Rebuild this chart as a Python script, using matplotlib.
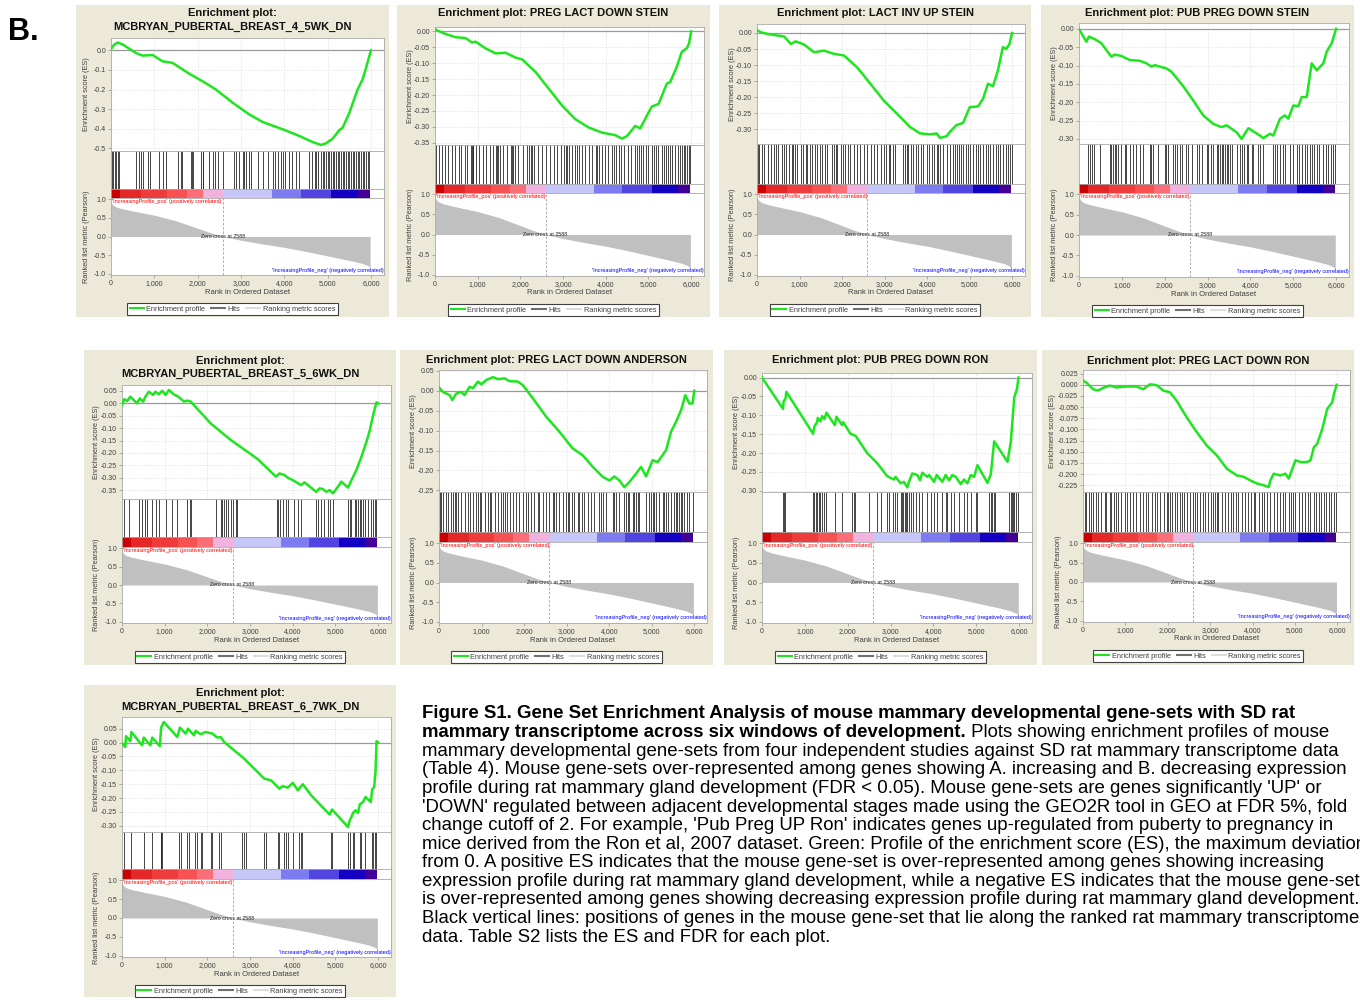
import numpy as np
import matplotlib
matplotlib.use('Agg')
import matplotlib.pyplot as plt
from matplotlib.patches import Rectangle
from matplotlib.lines import Line2D
from matplotlib.ticker import FuncFormatter

plt.rcParams['font.family'] = ['Liberation Sans', 'DejaVu Sans']

# ---- shared ranked list (same rat dataset in every panel) ----
metric_rank = [0, 10, 40, 100, 200, 350, 600, 1000, 1500, 2000, 2300, 2588, 3000, 3500,
               4000, 4500, 5000, 5500, 5800, 5930, 5980]
metric_value = [0.95, 0.9, 0.85, 0.8, 0.76, 0.72, 0.66, 0.57, 0.42, 0.22, 0.1, 0.0, -0.1, -0.2,
                -0.29, -0.4, -0.52, -0.64, -0.72, -0.78, -0.84]
zero_cross = 2588

cbar_edges = [0, 210, 700, 1300, 1750, 2120, 2590, 3715, 4380, 5080, 5700, 5980]
cbar_colors = ['#cc0000', '#e42828', '#ee3c3c', '#f65252', '#fa6e78', '#f2b2de',
               '#c6c6f8', '#7c7cf0', '#5244e0', '#1400c2', '#440096']

# ---- panel 1: MCBRYAN_PUBERTAL_BREAST_4_5WK_DN ----
p1_rank = [0, 77, 154, 270, 577, 730, 960, 1190, 1420, 1810, 2115, 2420, 2810, 3190, 3500,
           3960, 4345, 4650, 4845, 4960, 5115, 5270, 5345, 5500, 5690, 5805, 5885, 5960, 5998]
p1_es = [0.007, 0.03, 0.04, 0.03, -0.014, -0.027, -0.024, -0.056, -0.064, -0.12, -0.158, -0.2,
         -0.268, -0.327, -0.366, -0.403, -0.437, -0.468, -0.483, -0.475, -0.451, -0.407, -0.395,
         -0.319, -0.2, -0.149, -0.09, -0.03, 0.0]
p1_hits = [23, 54, 85, 115, 161, 192, 577, 638, 700, 731, 846, 900, 1100, 1207, 1269, 1538, 1615,
           1638, 1846, 1869, 1899, 2076, 2115, 2130, 2269, 2346, 2407, 2461, 2576, 2845, 2884,
           2961, 3038, 3076, 3115, 3191, 3230, 3384, 3499, 3615, 3730, 3791, 3845, 3922, 3961,
           4022, 4114, 4176, 4268, 4330, 4576, 4637, 4714, 4730, 4768, 4845, 4883, 4922, 4960,
           4999, 5037, 5076, 5114, 5153, 5191, 5230, 5268, 5307, 5345, 5384, 5422, 5460, 5499,
           5537, 5576, 5614, 5653, 5691, 5730, 5768, 5807, 5845, 5883, 5922, 5960]

# ---- panel 2: PREG LACT DOWN STEIN ----
p2_rank = [0, 55, 250, 483, 717, 872, 950, 1184, 1418, 1651, 1885, 2041, 2353, 2664, 2976, 3287,
           3599, 3911, 4222, 4378, 4495, 4690, 4806, 5001, 5079, 5235, 5430, 5508, 5663, 5780,
           5897, 5952, 5998]
p2_es = [0.007, 0.003, -0.008, -0.018, -0.021, -0.035, -0.032, -0.053, -0.069, -0.067, -0.082,
         -0.088, -0.127, -0.18, -0.233, -0.276, -0.302, -0.318, -0.326, -0.337, -0.329, -0.297,
         -0.305, -0.255, -0.236, -0.228, -0.164, -0.159, -0.111, -0.064, -0.053, -0.037, 0.0]
p2_hits = [20, 90, 160, 230, 310, 400, 470, 560, 620, 700, 760, 840, 860, 880, 900, 960, 1040,
           1120, 1200, 1280, 1350, 1420, 1450, 1480, 1520, 1600, 1680, 1770, 1800, 1830, 1870,
           1950, 2050, 2150, 2200, 2240, 2280, 2330, 2420, 2500, 2600, 2700, 2780, 2860, 2940,
           3020, 3060, 3100, 3150, 3200, 3290, 3330, 3380, 3440, 3520, 3600, 3680, 3760, 3800,
           3850, 3900, 3980, 4060, 4150, 4200, 4250, 4300, 4360, 4430, 4520, 4600, 4690, 4730,
           4780, 4830, 4880, 4930, 5000, 5080, 5120, 5170, 5230, 5320, 5360, 5400, 5450, 5500,
           5550, 5620, 5700, 5740, 5780, 5820, 5860, 5900, 5940, 5980]

# ---- panel 3: LACT INV UP STEIN ----
p3_rank = [0, 93, 250, 483, 640, 795, 911, 1106, 1340, 1574, 1807, 2041, 2353, 2664, 2976, 3287,
           3599, 3833, 4066, 4222, 4300, 4456, 4534, 4690, 4845, 5001, 5196, 5313, 5430, 5547,
           5663, 5780, 5858, 5936, 5998]
p3_es = [0.009, 0.002, -0.003, -0.008, -0.011, -0.034, -0.026, -0.036, -0.06, -0.055, -0.065,
         -0.07, -0.107, -0.158, -0.21, -0.251, -0.293, -0.313, -0.316, -0.313, -0.327, -0.322,
         -0.308, -0.287, -0.28, -0.231, -0.229, -0.205, -0.158, -0.166, -0.117, -0.044, -0.05,
         -0.034, 0.0]
p3_hits = [16, 55, 109, 171, 249, 327, 390, 444, 499, 576, 639, 678, 756, 834, 857, 888, 935,
           1028, 1091, 1145, 1184, 1246, 1301, 1355, 1418, 1480, 1535, 1589, 1652, 1769, 1808,
           1847, 1885, 1963, 2025, 2080, 2134, 2197, 2275, 2353, 2430, 2508, 2586, 2680, 2742,
           2820, 2913, 2976, 3038, 3093, 3132, 3194, 3248, 3443, 3482, 3521, 3560, 3615, 3677,
           3739, 3794, 3848, 3911, 3988, 4051, 4105, 4160, 4222, 4261, 4300, 4378, 4456, 4534,
           4596, 4651, 4705, 4752, 4806, 4845, 4908, 4962, 5017, 5079, 5141, 5196, 5250, 5313,
           5375, 5430, 5484, 5547, 5609, 5663, 5718, 5780, 5842, 5897, 5952, 5998]

# ---- panel 4: PUB PREG DOWN STEIN ----
p4_rank = [0, 93, 171, 234, 366, 522, 639, 756, 834, 990, 1184, 1418, 1574, 1690, 1768, 2041,
           2158, 2430, 2664, 2898, 3132, 3326, 3443, 3677, 3794, 3950, 4222, 4300, 4456, 4534,
           4690, 4806, 4884, 5001, 5118, 5196, 5313, 5430, 5547, 5702, 5780, 5897, 5998]
p4_es = [-0.001, -0.019, -0.035, -0.021, -0.028, -0.039, -0.058, -0.076, -0.07, -0.074, -0.085,
         -0.087, -0.094, -0.103, -0.099, -0.108, -0.117, -0.156, -0.195, -0.236, -0.259, -0.268,
         -0.263, -0.282, -0.3, -0.271, -0.291, -0.298, -0.286, -0.291, -0.245, -0.236, -0.245,
         -0.209, -0.211, -0.186, -0.186, -0.094, -0.113, -0.094, -0.062, -0.039, 0.0]
p4_hits = [210, 249, 312, 351, 483, 732, 756, 795, 834, 872, 911, 990, 1067, 1106, 1184, 1262,
           1340, 1418, 1496, 1652, 1690, 1729, 1846, 2002, 2041, 2080, 2197, 2236, 2275, 2353,
           2392, 2508, 2547, 2625, 2742, 2804, 2859, 2976, 3015, 3069, 3132, 3210, 3248, 3287,
           3326, 3365, 3404, 3443, 3482, 3521, 3560, 3677, 3755, 3794, 3848, 3911, 3950, 4027,
           4066, 4183, 4222, 4300, 4534, 4573, 4627, 4690, 4752, 4806, 4923, 5001, 5079, 5141,
           5196, 5274, 5313, 5391, 5430, 5484, 5547, 5609, 5702, 5765, 5819, 5874, 5936, 5982]

# ---- panel 5: MCBRYAN_PUBERTAL_BREAST_5_6WK_DN ----
p5_rank = [0, 55, 118, 196, 353, 416, 494, 549, 627, 729, 784, 863, 941, 1020, 1098, 1216, 1318,
           1451, 1529, 1608, 2078, 2549, 3098, 3176, 3608, 3686, 3804, 3882, 4000, 4196, 4275,
           4549, 4627, 4706, 4784, 4863, 4941, 5059, 5137, 5294, 5373, 5490, 5608, 5725, 5804,
           5882, 5961, 6000]
p5_es = [-0.007, 0.017, 0.009, 0.027, 0.0, 0.02, 0.007, 0.027, 0.047, 0.034, 0.047, 0.036, 0.051,
         0.034, 0.054, 0.036, 0.027, 0.007, 0.011, 0.007, -0.081, -0.148, -0.215, -0.225, -0.296,
         -0.283, -0.289, -0.3, -0.31, -0.33, -0.319, -0.357, -0.343, -0.346, -0.357, -0.35,
         -0.363, -0.336, -0.316, -0.34, -0.31, -0.269, -0.215, -0.155, -0.108, -0.047, 0.004, 0.0]
p5_hits = [55, 172, 392, 470, 533, 588, 706, 807, 862, 1019, 1176, 1294, 1513, 1592, 1607, 2195,
           2313, 2352, 2391, 2430, 2485, 2548, 2611, 2666, 2705, 3630, 3661, 3708, 3763, 3842,
           3896, 4038, 4116, 4194, 4547, 4586, 4665, 4728, 4822, 4861, 4939, 5292, 5331, 5370,
           5449, 5488, 5527, 5566, 5606, 5645, 5684, 5762, 5841, 5880, 5919, 5958]

# ---- panel 6: PREG LACT DOWN ANDERSON ----
p6_rank = [0, 94, 250, 313, 407, 524, 602, 720, 798, 915, 994, 1111, 1268, 1385, 1541, 1659, 1854,
           1972, 2206, 2519, 2832, 3145, 3380, 3615, 3849, 4006, 4123, 4241, 4358, 4475, 4632,
           4750, 4867, 5023, 5141, 5337, 5454, 5571, 5689, 5790, 5884, 5962, 6000]
p6_es = [0.008, -0.003, -0.011, -0.023, -0.007, -0.003, -0.011, 0.01, 0.006, 0.023, 0.016, 0.027,
         0.034, 0.029, 0.031, 0.024, 0.023, 0.014, -0.019, -0.065, -0.103, -0.145, -0.162, -0.191,
         -0.216, -0.225, -0.215, -0.225, -0.242, -0.229, -0.208, -0.191, -0.215, -0.174, -0.179,
         -0.149, -0.103, -0.078, -0.049, -0.011, -0.032, -0.032, 0.0]
p6_hits = [16, 55, 94, 156, 211, 289, 328, 368, 407, 446, 524, 602, 680, 735, 798, 876, 915, 954,
           993, 1071, 1150, 1189, 1228, 1306, 1384, 1462, 1501, 1540, 1595, 1658, 1736, 1799,
           1877, 1971, 2049, 2088, 2166, 2244, 2323, 2362, 2440, 2518, 2596, 2674, 2714, 2753,
           2831, 2909, 2987, 3026, 3065, 3128, 3183, 3261, 3300, 3363, 3417, 3496, 3574, 3652,
           3769, 3808, 3863, 3926, 4082, 4121, 4160, 4238, 4355, 4394, 4434, 4473, 4551, 4590,
           4629, 4668, 4707, 4864, 4942, 4981, 5020, 5059, 5098, 5176, 5255, 5294, 5333, 5372,
           5450, 5528, 5567, 5606, 5646, 5685, 5724, 5763, 5841, 5880, 5974]

# ---- panel 7: PUB PREG DOWN RON ----
p7_rank = [0, 491, 506, 545, 569, 1192, 1223, 1286, 1301, 1364, 1403, 1457, 1504, 1699, 1738,
           1870, 1894, 2065, 2182, 2455, 2689, 2922, 3078, 3117, 3234, 3312, 3390, 3429, 3507,
           3624, 3686, 3741, 3858, 3897, 4014, 4076, 4208, 4286, 4364, 4442, 4520, 4637, 4715,
           4793, 4871, 4949, 5027, 5261, 5339, 5417, 5729, 5768, 5807, 5846, 5885, 5947, 5986]
p7_es = [0.0, -0.083, -0.062, -0.058, -0.038, -0.149, -0.129, -0.118, -0.107, -0.116, -0.102,
         -0.11, -0.093, -0.126, -0.104, -0.126, -0.118, -0.149, -0.154, -0.2, -0.227, -0.261,
         -0.27, -0.263, -0.28, -0.276, -0.291, -0.276, -0.254, -0.258, -0.272, -0.252, -0.263,
         -0.258, -0.276, -0.258, -0.276, -0.258, -0.272, -0.258, -0.263, -0.282, -0.27, -0.28,
         -0.258, -0.263, -0.232, -0.279, -0.256, -0.169, -0.223, -0.196, -0.169, -0.111, -0.053,
         -0.031, 0.0]
p7_hits = [491, 522, 545, 1192, 1223, 1254, 1285, 1324, 1363, 1402, 1457, 1503, 1714, 1870, 2103,
           2142, 2181, 2493, 2688, 2765, 2921, 2960, 3061, 3093, 3155, 3233, 3272, 3295, 3326,
           3357, 3389, 3428, 3467, 3529, 3583, 3661, 3739, 3856, 3950, 4012, 4090, 4207, 4285,
           4323, 4402, 4479, 4596, 4713, 4791, 4869, 4986, 5025, 5297, 5336, 5375, 5414, 5437,
           5765, 5803, 5843, 5866, 5881, 5920, 5975]

# ---- panel 8: PREG LACT DOWN RON ----
p8_rank = [0, 79, 237, 355, 474, 632, 789, 1026, 1263, 1421, 1579, 1737, 1895, 2053, 2211, 2447,
           2684, 2921, 3158, 3395, 3632, 3789, 3947, 4105, 4263, 4382, 4421, 4500, 4658, 4776,
           4855, 5013, 5132, 5289, 5368, 5447, 5526, 5645, 5763, 5882, 5921, 5984]
p8_es = [0.009, 0.005, -0.01, -0.013, -0.007, -0.002, -0.006, -0.004, -0.004, -0.01, 0.001,
         -0.001, -0.013, -0.017, -0.036, -0.073, -0.106, -0.136, -0.158, -0.188, -0.203, -0.206,
         -0.214, -0.221, -0.225, -0.229, -0.214, -0.199, -0.203, -0.199, -0.21, -0.169, -0.173,
         -0.173, -0.169, -0.14, -0.132, -0.099, -0.054, -0.039, -0.021, 0.0]
p8_hits = [39, 79, 142, 197, 237, 300, 355, 434, 513, 552, 631, 671, 726, 773, 828, 907, 986,
           1041, 1105, 1183, 1262, 1341, 1420, 1483, 1539, 1617, 1696, 1736, 1815, 1909, 1973,
           2012, 2051, 2091, 2170, 2209, 2288, 2328, 2383, 2446, 2525, 2588, 2643, 2698, 2761,
           2840, 2880, 2959, 3014, 3077, 3116, 3156, 3195, 3274, 3353, 3432, 3487, 3550, 3613,
           3669, 3747, 3826, 3905, 3961, 4024, 4063, 4142, 4221, 4276, 4339, 4418, 4497, 4576,
           4655, 4718, 4773, 4852, 4907, 4955, 5010, 5089, 5168, 5247, 5302, 5365, 5444, 5507,
           5562, 5617, 5681, 5744, 5799, 5854, 5917, 5981]

# ---- panel 9: MCBRYAN_PUBERTAL_BREAST_6_7WK_DN ----
p9_rank = [0, 78, 94, 196, 220, 471, 510, 666, 706, 886, 917, 980, 1294, 1356, 1490, 1545, 1686,
           1725, 1843, 1960, 2117, 2234, 2313, 2391, 2862, 3019, 3333, 3490, 3686, 3764, 3882,
           4000, 4118, 4235, 4431, 4863, 4918, 5294, 5333, 5373, 5412, 5467, 5529, 5569, 5647,
           5702, 5827, 5859, 5906, 5937, 5961, 6000]
p9_es = [-0.004, -0.016, 0.023, 0.005, 0.038, -0.01, 0.018, -0.01, 0.018, -0.013, 0.054, 0.074,
         0.02, 0.054, 0.032, 0.05, 0.026, 0.042, 0.03, 0.038, 0.032, 0.018, 0.02, 0.002, -0.058,
         -0.082, -0.13, -0.136, -0.166, -0.157, -0.162, -0.145, -0.172, -0.15, -0.19, -0.259,
         -0.241, -0.304, -0.28, -0.268, -0.253, -0.244, -0.253, -0.222, -0.214, -0.196, -0.214,
         -0.169, -0.16, -0.106, 0.005, 0.0]
p9_hits = [55, 212, 510, 706, 902, 917, 933, 1333, 1372, 1513, 1568, 1701, 1748, 1858, 1882, 2078,
           2101, 2274, 2313, 2799, 2846, 2901, 3332, 3371, 3646, 3685, 3787, 3842, 3881, 3998,
           4155, 4194, 4210, 4900, 4916, 5292, 5331, 5410, 5433, 5566, 5606, 5700, 5857, 5888,
           5919, 5958]

caption_lines = [
    "Figure S1. Gene Set Enrichment Analysis of mouse mammary developmental gene-sets with SD rat",
    "mammary transcriptome across six windows of development.",
    "mammary developmental gene-sets from four independent studies against SD rat mammary transcriptome data",
    "(Table 4). Mouse gene-sets over-represented among genes showing A. increasing and B. decreasing expression",
    "profile during rat mammary gland development (FDR < 0.05). Mouse gene-sets are genes significantly 'UP' or",
    "'DOWN' regulated between adjacent developmental stages made using the GEO2R tool in GEO at FDR 5%, fold",
    "change cutoff of 2. For example, 'Pub Preg UP Ron' indicates genes up-regulated from puberty to pregnancy in",
    "mice derived from the Ron et al, 2007 dataset. Green: Profile of the enrichment score (ES), the maximum deviation",
    "from 0. A positive ES indicates that the mouse gene-set is over-represented among genes showing increasing",
    "expression profile during rat mammary gland development, while a negative ES indicates that the mouse gene-set",
    "is over-represented among genes showing decreasing expression profile during rat mammary gland development.",
    "Black vertical lines: positions of genes in the mouse gene-set that lie along the ranked rat mammary transcriptome",
    "data. Table S2 lists the ES and FDR for each plot.",
]
caption_line2_rest = " Plots showing enrichment profiles of mouse"

# ---------------------------------------------------------------------------
W, H = 1360, 1000
BEIGE = '#ece9d8'
GREEN = '#1ee61e'
XMAX = 6300

fig = plt.figure(figsize=(W / 100, H / 100), dpi=100)
fig.patch.set_facecolor('white')


def px_axes(x0, y0, x1, y1):
    return fig.add_axes([x0 / W, 1 - y1 / H, (x1 - x0) / W, (y1 - y0) / H])


def es_formatter(dec):
    def f(v, pos):
        s = f'{v:.{dec}f}'
        if float(s) == 0:
            s = f'{0:.{dec}f}'
        return s
    return FuncFormatter(f)


def style_axes(ax):
    for sp in ax.spines.values():
        sp.set_color('#a8a8a8')
        sp.set_linewidth(0.6)
    ax.set_facecolor('white')
    ax.tick_params(labelsize=5, length=2, width=0.5, color='#909090', labelcolor='#404040', pad=1.5)


panels = [
    dict(rank=p1_rank, es=p1_es, hits=p1_hits, ylim=(-0.514, 0.063), ticks=(0.0, -0.5, 0.1, 1),
         box=(76, 5, 389, 317), lr=(111, 384), ys=(38, 151, 189, 198, 275),
         title=['Enrichment plot:', 'MCBRYAN_PUBERTAL_BREAST_4_5WK_DN'], ty=[13, 27]),
    dict(rank=p2_rank, es=p2_es, hits=p2_hits, ylim=(-0.357, 0.014), ticks=(0.0, -0.35, 0.05, 2),
         box=(397, 5, 710, 317), lr=(435, 704), ys=(27, 145, 184, 193, 276),
         title=['Enrichment plot: PREG LACT DOWN STEIN'], ty=[13]),
    dict(rank=p3_rank, es=p3_es, hits=p3_hits, ylim=(-0.346, 0.028), ticks=(0.0, -0.30, 0.05, 2),
         box=(719, 5, 1031, 317), lr=(757, 1025), ys=(24, 144, 184, 193, 276),
         title=['Enrichment plot: LACT INV UP STEIN'], ty=[13]),
    dict(rank=p4_rank, es=p4_es, hits=p4_hits, ylim=(-0.314, 0.016), ticks=(0.0, -0.30, 0.05, 2),
         box=(1041, 5, 1354, 317), lr=(1079, 1349), ys=(23, 144, 184, 193, 277),
         title=['Enrichment plot: PUB PREG DOWN STEIN'], ty=[13]),
    dict(rank=p5_rank, es=p5_es, hits=p5_hits, ylim=(-0.386, 0.074), ticks=(0.05, -0.35, 0.05, 2),
         box=(84, 350, 396, 665), lr=(122, 391), ys=(385, 499, 537, 547, 623),
         title=['Enrichment plot:', 'MCBRYAN_PUBERTAL_BREAST_5_6WK_DN'], ty=[361, 374]),
    dict(rank=p6_rank, es=p6_es, hits=p6_hits, ylim=(-0.254, 0.052), ticks=(0.05, -0.25, 0.05, 2),
         box=(400, 350, 713, 665), lr=(439, 707), ys=(370, 492, 532, 542, 623),
         title=['Enrichment plot: PREG LACT DOWN ANDERSON'], ty=[360]),
    dict(rank=p7_rank, es=p7_es, hits=p7_hits, ylim=(-0.303, 0.012), ticks=(0.0, -0.30, 0.05, 2),
         box=(724, 350, 1037, 665), lr=(762, 1032), ys=(373, 492, 532, 542, 623),
         title=['Enrichment plot: PUB PREG DOWN RON'], ty=[360]),
    dict(rank=p8_rank, es=p8_es, hits=p8_hits, ylim=(-0.24, 0.033), ticks=(0.025, -0.225, 0.025, 3),
         box=(1042, 350, 1354, 665), lr=(1083, 1350), ys=(370, 492, 532, 542, 622),
         title=['Enrichment plot: PREG LACT DOWN RON'], ty=[361]),
    dict(rank=p9_rank, es=p9_es, hits=p9_hits, ylim=(-0.322, 0.092), ticks=(0.05, -0.30, 0.05, 2),
         box=(84, 685, 396, 997), lr=(122, 391), ys=(717, 832, 869, 879, 957),
         title=['Enrichment plot:', 'MCBRYAN_PUBERTAL_BREAST_6_7WK_DN'], ty=[693, 707]),
]

legend_handles = [Line2D([], [], color=GREEN, lw=1.5),
                  Line2D([], [], color='#707070', lw=1.5),
                  Line2D([], [], color='#dcdcdc', lw=1.5)]
legend_labels = ['Enrichment profile', 'Hits', 'Ranking metric scores']

for p in panels:
    bx0, by0, bx1, by1 = p['box']
    fig.add_artist(Rectangle((bx0 / W, 1 - by1 / H), (bx1 - bx0) / W, (by1 - by0) / H,
                             transform=fig.transFigure, facecolor=BEIGE, edgecolor='none',
                             zorder=-5))
    L, R = p['lr']
    t, e, hb, cb, mb = p['ys']
    cx = (bx0 + bx1) / 2

    # enrichment score
    ax = px_axes(L, t, R, e)
    style_axes(ax)
    ax.grid(True, color='#dddddd', lw=0.5, ls=(0, (2, 2)))
    ax.set_axisbelow(True)
    ax.axhline(0, color='#9a9a9a', lw=0.9, zorder=1)
    ax.plot(p['rank'], p['es'], color=GREEN, lw=1.8, solid_joinstyle='round', zorder=3)
    ax.set_xlim(0, XMAX)
    ax.set_ylim(*p['ylim'])
    top, bot, step, dec = p['ticks']
    ax.set_yticks(np.arange(top, bot - step / 2, -step))
    ax.yaxis.set_major_formatter(es_formatter(dec))
    ax.set_xticks(range(0, 6001, 1000))
    ax.tick_params(axis='x', labelbottom=False, length=0)
    fig.text((L - (30 if dec == 3 else 25)) / W, 1 - (t + e) / 2 / H, 'Enrichment score (ES)',
             rotation=90, ha='center', va='center', fontsize=5.3, color='#404040')

    # hits
    axh = px_axes(L, e, R, hb)
    style_axes(axh)
    axh.vlines(p['hits'], 0, 1, colors='#262626', lw=0.6)
    axh.set_xlim(0, XMAX)
    axh.set_ylim(0, 1)
    axh.set_xticks([])
    axh.set_yticks([])

    # colour bar
    axc = px_axes(L, hb, R, cb)
    style_axes(axc)
    axc.bar(cbar_edges[:-1], 1, width=np.diff(cbar_edges), align='edge', color=cbar_colors, lw=0)
    axc.set_xlim(0, XMAX)
    axc.set_ylim(0, 1)
    axc.set_xticks([])
    axc.set_yticks([])

    # ranked list metric
    axm = px_axes(L, cb, R, mb)
    style_axes(axm)
    axm.fill_between(metric_rank, 0, metric_value, color='#c0c0c0', lw=0)
    axm.axvline(zero_cross, color='#a0a0a0', lw=0.6, ls=(0, (3, 2)))
    axm.set_xlim(0, XMAX)
    axm.set_ylim(-1.03, 1.03)
    axm.set_yticks([1.0, 0.5, 0.0, -0.5, -1.0])
    axm.yaxis.set_major_formatter(es_formatter(1))
    axm.set_xticks(range(0, 6001, 1000))
    axm.xaxis.set_major_formatter(FuncFormatter(lambda v, pos: f'{int(v):,}'))
    axm.text(20, 1.0, "'IncreasingProfile_pos' (positively correlated)", color='#ff0000',
             fontsize=4, ha='left', va='top')
    axm.text(0.998, -0.9, "'IncreasingProfile_neg' (negatively correlated)", color='#0000ff',
             fontsize=4, ha='right', va='center', transform=axm.get_yaxis_transform())
    axm.text(zero_cross, 0.0, 'Zero cross at 2588', fontsize=3.8, ha='center', va='center',
             color='#202020')
    fig.text((L - 25) / W, 1 - (cb + mb) / 2 / H, 'Ranked list metric (Pearson)', rotation=90,
             ha='center', va='center', fontsize=5.3, color='#404040')
    fig.text((L + R) / 2 / W, 1 - (mb + 17) / H, 'Rank in Ordered Dataset', ha='center',
             va='center', fontsize=5.5, color='#404040')

    # title
    for line, yy in zip(p['title'], p['ty']):
        fig.text(cx / W, 1 - yy / H, line, ha='center', va='center', fontsize=8,
                 fontweight='bold', color='#111111')

    # legend
    leg = fig.legend(legend_handles, legend_labels, loc='center',
                     bbox_to_anchor=(cx / W, 1 - (mb + 34) / H), ncol=3, fontsize=5.3,
                     frameon=True, fancybox=False, edgecolor='#404040', framealpha=1,
                     handlelength=1.9, columnspacing=0.8, handletextpad=0.35, borderpad=0.35)
    leg.get_frame().set_linewidth(0.8)
    for txt in leg.get_texts():
        txt.set_color('#404040')

# panel letter
fig.text(8 / W, 1 - 32 / H, 'B.', fontsize=22, fontweight='bold', ha='left', va='center')

# caption: fit font size to the measured width of line 3
renderer = fig.canvas.get_renderer()
probe = fig.text(0, 0, caption_lines[2], fontsize=12)
cap_fs = 12 * 920 / probe.get_window_extent(renderer).width
probe.remove()

cap_x = 422
for i, line in enumerate(caption_lines):
    yy = 714 + i * 18.6
    bold = i < 2
    t = fig.text(cap_x / W, 1 - yy / H, line, fontsize=cap_fs, va='center', ha='left',
                 fontweight='bold' if bold else 'normal', color='black')
    if i == 1:
        wb = t.get_window_extent(renderer).width
        fig.text((cap_x + wb) / W, 1 - yy / H, caption_line2_rest, fontsize=cap_fs,
                 va='center', ha='left', color='black')

fig.savefig('out.png', dpi=100)
